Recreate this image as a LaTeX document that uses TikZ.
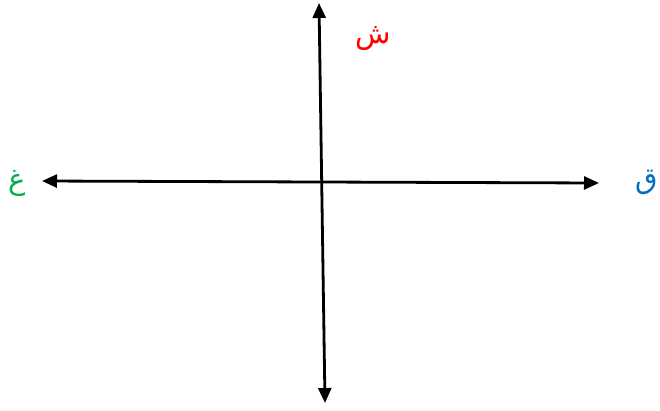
\documentclass[tikz,border=0pt]{standalone}
\usepackage{fontspec}
\usetikzlibrary{arrows.meta}
\newfontfamily\arabicfont[Script=Arabic]{DejaVu Sans}
\TeXXeTstate=1
\definecolor{lblred}{RGB}{255,0,0}
\definecolor{lblgreen}{RGB}{0,176,80}
\definecolor{lblblue}{RGB}{0,112,192}
\begin{document}
\begin{tikzpicture}[x=1pt,y=-1pt,
  axis/.style={line width=2.8pt,{Triangle[length=15pt,width=13pt]}-{Triangle[length=15pt,width=13pt]}},
  lbl/.style={font=\fontsize{29}{34}\selectfont\arabicfont,inner sep=0pt}]
\useasboundingbox (0,0) rectangle (660,410);
\coordinate (top) at (319,3);
\coordinate (bottom) at (325,403);
\coordinate (left) at (42,181);
\coordinate (right) at (599,183);
\draw[axis] (top) -- (bottom);
\draw[axis] (left) -- (right);
\node[lbl,text=lblred] (sh) at (373,39) {\beginR ش\endR};
\node[lbl,text=lblgreen] (gh) at (17,183) {\beginR غ\endR};
\node[lbl,text=lblblue] (qa) at (647,182) {\beginR ق\endR};
\end{tikzpicture}
\end{document}
